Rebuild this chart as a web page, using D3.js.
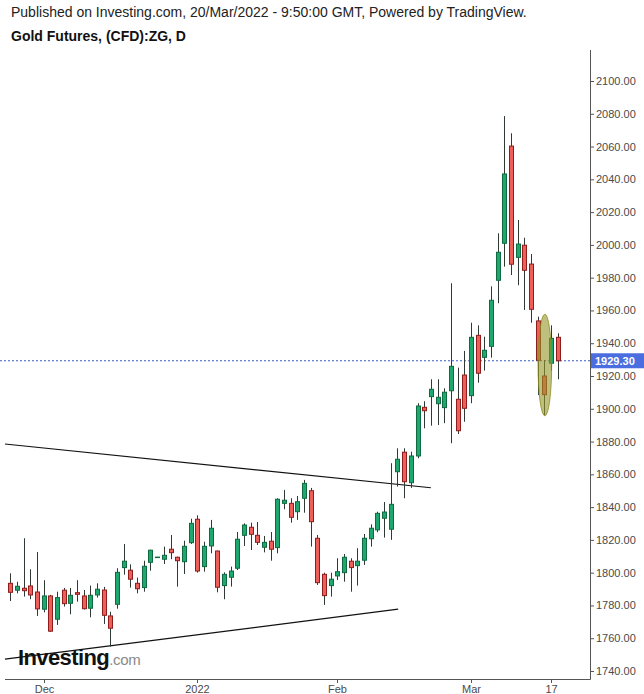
<!DOCTYPE html>
<html><head><meta charset="utf-8">
<script src="https://cdn.jsdelivr.net/npm/d3@7/dist/d3.min.js"></script>
<style>
html,body{margin:0;padding:0;background:#fff;}
svg{display:block;font-family:"Liberation Sans",Arial,Helvetica,sans-serif;}
</style></head><body>
<svg id="chart" width="644" height="694"></svg>
<script>
// ---- data ----
const opens  = [1793.5,1789.3,1790.5,1791.9,1788.2,1777.7,1785.8,1771.6,1789.3,1781.3,1787.8,1785.8,1778.3,1786.4,1789.4,1773.6,1780.7,1803.1,1801.5,1793.5,1790.9,1806.3,1809.4,1808.2,1814.3,1809.4,1806.7,1818.3,1832.6,1803.7,1816.3,1813.2,1792.1,1797.2,1802.7,1822.8,1827.7,1822.8,1815.5,1819.2,1815.3,1842.3,1842.3,1837.2,1845.4,1850.0,1821.0,1799.0,1792.1,1798.0,1800.0,1807.0,1804.3,1807.6,1820.7,1826.1,1833.2,1826.5,1861.6,1873.5,1854.9,1871.2,1900.9,1907.4,1903.1,1900.7,1911.0,1905.8,1920.6,1908.0,1944.8,1931.4,1938.1,1978.4,2001.0,2060.3,1992.4,1999.8,1988.3,1953.6,1920.0,1927.8,1943.6];
const highs  = [1799.6,1794.5,1821.0,1802.1,1812.6,1795.4,1786.4,1788.4,1790.7,1790.7,1795.4,1789.4,1792.1,1793.5,1791.3,1776.2,1802.7,1817.5,1805.1,1797.0,1807.3,1814.0,1809.6,1815.9,1823.0,1809.8,1819.5,1832.9,1835.0,1818.9,1832.2,1813.5,1800.2,1803.7,1824.8,1830.1,1830.5,1830.9,1822.4,1824.8,1845.4,1850.5,1845.4,1846.8,1856.6,1851.7,1823.0,1800.0,1800.0,1808.8,1811.4,1808.8,1814.9,1823.6,1829.5,1837.2,1843.1,1866.8,1875.9,1875.9,1873.8,1903.4,1904.6,1918.0,1918.0,1912.5,1976.6,1925.1,1935.3,1952.5,1950.9,1944.0,1974.7,2007.1,2078.6,2068.1,2015.2,2004.4,1994.4,1956.2,1929.8,1950.9,1946.1];
const lows   = [1782.7,1787.4,1785.4,1783.8,1773.6,1775.8,1763.8,1768.1,1779.3,1774.6,1782.3,1777.5,1772.8,1784.8,1768.7,1754.9,1778.0,1798.8,1790.9,1787.4,1788.4,1801.2,1809.3,1805.3,1808.2,1791.5,1799.2,1817.5,1800.0,1800.6,1811.8,1788.0,1783.8,1791.5,1801.6,1816.3,1813.8,1816.9,1812.4,1807.3,1811.8,1838.7,1830.5,1832.2,1836.6,1815.9,1792.5,1780.3,1785.4,1795.5,1794.5,1788.4,1792.1,1804.7,1815.9,1824.7,1821.4,1820.0,1852.5,1845.4,1851.7,1869.8,1888.1,1889.7,1890.1,1891.2,1879.0,1884.6,1892.1,1903.4,1915.9,1923.3,1931.2,1964.4,1986.7,1981.6,1975.4,1960.3,1952.5,1908.4,1896.2,1923.3,1918.0];
const closes = [1788.0,1791.7,1789.0,1786.4,1777.9,1785.8,1764.3,1784.8,1781.1,1786.2,1786.8,1778.0,1786.2,1789.9,1774.0,1766.1,1800.2,1807.0,1796.0,1790.2,1803.9,1813.7,1809.5,1810.6,1812.2,1807.3,1816.1,1830.1,1801.0,1816.1,1827.1,1791.1,1799.0,1801.0,1820.4,1829.1,1823.4,1818.5,1818.5,1814.3,1844.8,1844.2,1833.8,1843.3,1854.5,1831.1,1793.9,1786.0,1796.0,1800.6,1809.4,1803.1,1807.0,1821.0,1827.1,1836.2,1837.0,1841.7,1869.2,1855.5,1871.2,1901.7,1898.8,1911.9,1907.0,1910.1,1925.9,1886.6,1900.3,1943.6,1921.7,1935.7,1966.2,1995.5,2043.3,1988.2,2000.5,1984.5,1960.7,1929.6,1908.6,1943.0,1929.3];
const yTicks = [1740,1760,1780,1800,1820,1840,1860,1880,1900,1920,1940,1960,1980,2000,2020,2040,2060,2080,2100];
const xTickLabels = ["Dec","2022","Feb","Mar","17"];
const xTickDates  = ["2021-12-01","2022-01-03","2022-02-01","2022-03-01","2022-03-17"];
const lastPrice = 1929.30;
// trend lines: [candle index, price]
const upperTrend = [[-0.8,1878.5],[63.0,1851.8]];
const lowerTrend = [[-0.8,1747.2],[58.1,1777.7]];
// highlight ellipse: candle index, price centre, half width (candles), half height (price)
const highlight = {i:80, p:1926.7, ri:1.02, rp:31};

// trading days (categories)
const days = d3.utcDays(new Date(Date.UTC(2021,10,24)), new Date(Date.UTC(2022,2,19)))
  .filter(d => d.getUTCDay() !== 0 && d.getUTCDay() !== 6);
const fmt = d3.utcFormat("%Y-%m-%d");
const candles = days.map((d,i)=>({date:fmt(d), i, o:opens[i], h:highs[i], l:lows[i], c:closes[i]}));

// ---- layout ----
const svg = d3.select("#chart");
const axisX = 590, plotTop = 50, plotBottom = 679, plotLeft = 5;
const x = d3.scaleLinear().domain([0, candles.length-1]).range([10.3, 557.7]);
const y = d3.scaleLinear().domain([1740, 2100]).range([671, 81]);

const upFill="#1fa86d", upStroke="#0f6a42", dnFill="#ef5f5a", dnStroke="#8e1d1b", wickCol="#2f3a35";

// header
svg.append("text").attr("x",11).attr("y",17).attr("font-size",14).attr("fill","#222")
  .text("Published on Investing.com, 20/Mar/2022 - 9:50:00 GMT, Powered by TradingView.");
svg.append("text").attr("x",11).attr("y",41).attr("font-size",14).attr("font-weight","bold").attr("fill","#111")
  .text("Gold Futures, (CFD):ZG, D");

// price line
svg.append("line").attr("x1",0).attr("x2",axisX).attr("y1",y(lastPrice)).attr("y2",y(lastPrice))
  .attr("stroke","#3a5ccc").attr("stroke-width",1).attr("stroke-dasharray","2,2");

// trend lines
const line = d3.line().x(d=>x(d[0])).y(d=>y(d[1]));
[upperTrend, lowerTrend].forEach(t=>{
  svg.append("path").attr("d", line(t)).attr("stroke","#111").attr("stroke-width",1.2).attr("fill","none");
});

// candles
const g = svg.append("g");
const cg = g.selectAll("g.c").data(candles).join("g");
cg.append("line")
  .attr("x1",d=>Math.round(x(d.i))+0.5).attr("x2",d=>Math.round(x(d.i))+0.5)
  .attr("y1",d=>y(d.h)).attr("y2",d=>y(d.l))
  .attr("stroke",wickCol).attr("stroke-width",1);
cg.append("rect")
  .attr("x",d=>Math.round(x(d.i))-1.5).attr("width",4)
  .attr("y",d=>y(Math.max(d.o,d.c)))
  .attr("height",d=>Math.max(0.5, y(Math.min(d.o,d.c))-y(Math.max(d.o,d.c))))
  .attr("fill",d=>d.c>=d.o?upFill:dnFill)
  .attr("stroke",d=>d.c>=d.o?upStroke:dnStroke).attr("stroke-width",1);

// highlight ellipse
svg.append("ellipse")
  .attr("cx", x(highlight.i)+0.5).attr("cy", y(highlight.p))
  .attr("rx", x(highlight.ri)-x(0)).attr("ry", y(highlight.p - highlight.rp) - y(highlight.p))
  .attr("fill","rgba(150,150,40,0.6)").attr("stroke","rgba(140,140,30,0.8)").attr("stroke-width",1);

// logo (one text element)
const logo = svg.append("text").attr("x",18).attr("y",665);
logo.append("tspan").attr("font-size",22).attr("font-weight","bold").attr("letter-spacing",-0.6)
  .attr("fill","#111").text("Investing");
logo.append("tspan").attr("font-size",15).attr("fill","#8a8a8a").attr("letter-spacing",-0.3).text(".com");

// right axis
const yAxis = d3.axisRight(y).tickValues(yTicks).tickSize(4).tickPadding(2).tickFormat(d3.format(".2f"));
const ya = svg.append("g").attr("transform",`translate(${axisX},0)`).call(yAxis);
ya.select(".domain").remove();
ya.selectAll("line").attr("stroke","#555");
ya.selectAll("text").attr("font-size",11).attr("fill","#4a4a4a").attr("font-family","Liberation Sans, Arial, sans-serif");
svg.append("line").attr("x1",axisX+0.5).attr("x2",axisX+0.5).attr("y1",plotTop).attr("y2",plotBottom+0.5)
  .attr("stroke","#555").attr("stroke-width",1);

// bottom axis
svg.append("line").attr("x1",plotLeft).attr("x2",axisX+0.5).attr("y1",plotBottom+0.5).attr("y2",plotBottom+0.5)
  .attr("stroke","#555").attr("stroke-width",1);
const idxOf = new Map(candles.map(d=>[d.date,d.i]));
const xt = svg.append("g");
xTickDates.forEach((dt,k)=>{
  const px = Math.round(x(idxOf.get(dt)))+0.5;
  xt.append("line").attr("x1",px).attr("x2",px).attr("y1",plotBottom).attr("y2",plotBottom+4).attr("stroke","#555");
  xt.append("text").attr("x",px).attr("y",693).attr("text-anchor","middle").attr("font-size",11)
    .attr("fill","#4a4a4a").text(xTickLabels[k]);
});

// last price label
const ly = y(lastPrice);
svg.append("rect").attr("x",axisX+1).attr("y",ly-7.5).attr("width",53).attr("height",15).attr("fill","#4a6ee0");
svg.append("text").attr("x",axisX+5).attr("y",ly+4).attr("font-size",11).attr("font-weight","bold")
  .attr("fill","#fff").text(lastPrice.toFixed(2));
</script>
</body></html>
